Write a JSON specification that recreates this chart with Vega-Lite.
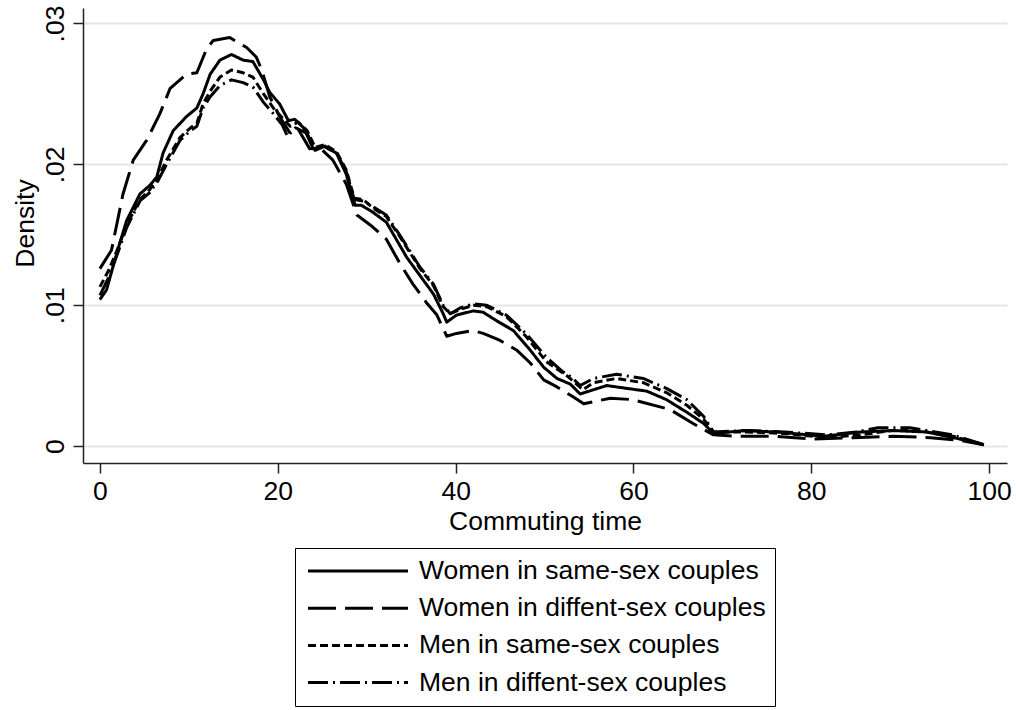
{
  "$schema": "https://vega.github.io/schema/vega-lite/v6.json",
  "autosize": {"type": "none"},
  "width": 924,
  "height": 455,
  "padding": {"left": 83, "top": 8, "right": 9, "bottom": 247},
  "background": "white",
  "config": {
    "view": {"stroke": null},
    "font": "Liberation Sans"
  },
  "datasets": {
    "curves": [
      {"group": "Women in same-sex couples", "time": 0, "density": 0.0104},
      {"group": "Women in same-sex couples", "time": 0.75, "density": 0.0111},
      {"group": "Women in same-sex couples", "time": 1.9, "density": 0.0137},
      {"group": "Women in same-sex couples", "time": 3.0, "density": 0.0160},
      {"group": "Women in same-sex couples", "time": 4.5, "density": 0.0179},
      {"group": "Women in same-sex couples", "time": 5.6, "density": 0.0185},
      {"group": "Women in same-sex couples", "time": 6.4, "density": 0.0191},
      {"group": "Women in same-sex couples", "time": 7.1, "density": 0.0208},
      {"group": "Women in same-sex couples", "time": 8.25, "density": 0.0224},
      {"group": "Women in same-sex couples", "time": 9.75, "density": 0.0234},
      {"group": "Women in same-sex couples", "time": 10.9, "density": 0.0240},
      {"group": "Women in same-sex couples", "time": 11.6, "density": 0.0250},
      {"group": "Women in same-sex couples", "time": 12.4, "density": 0.0264},
      {"group": "Women in same-sex couples", "time": 13.5, "density": 0.0274},
      {"group": "Women in same-sex couples", "time": 14.8, "density": 0.0278},
      {"group": "Women in same-sex couples", "time": 16.1, "density": 0.0274},
      {"group": "Women in same-sex couples", "time": 17.2, "density": 0.0273},
      {"group": "Women in same-sex couples", "time": 18.4, "density": 0.0260},
      {"group": "Women in same-sex couples", "time": 19.1, "density": 0.0251},
      {"group": "Women in same-sex couples", "time": 20.2, "density": 0.0243},
      {"group": "Women in same-sex couples", "time": 21.2, "density": 0.0231},
      {"group": "Women in same-sex couples", "time": 21.9, "density": 0.0232},
      {"group": "Women in same-sex couples", "time": 22.9, "density": 0.0226},
      {"group": "Women in same-sex couples", "time": 24.0, "density": 0.0211},
      {"group": "Women in same-sex couples", "time": 25.1, "density": 0.0213},
      {"group": "Women in same-sex couples", "time": 26.6, "density": 0.0208},
      {"group": "Women in same-sex couples", "time": 27.7, "density": 0.0193},
      {"group": "Women in same-sex couples", "time": 28.7, "density": 0.0171},
      {"group": "Women in same-sex couples", "time": 29.4, "density": 0.0171},
      {"group": "Women in same-sex couples", "time": 30.7, "density": 0.0166},
      {"group": "Women in same-sex couples", "time": 32.2, "density": 0.0159},
      {"group": "Women in same-sex couples", "time": 33.4, "density": 0.0146},
      {"group": "Women in same-sex couples", "time": 34.5, "density": 0.0134},
      {"group": "Women in same-sex couples", "time": 36.0, "density": 0.0121},
      {"group": "Women in same-sex couples", "time": 37.5, "density": 0.0108},
      {"group": "Women in same-sex couples", "time": 38.6, "density": 0.0094},
      {"group": "Women in same-sex couples", "time": 39.0, "density": 0.0088},
      {"group": "Women in same-sex couples", "time": 40.1, "density": 0.0093},
      {"group": "Women in same-sex couples", "time": 42.0, "density": 0.0096},
      {"group": "Women in same-sex couples", "time": 43.1, "density": 0.0095},
      {"group": "Women in same-sex couples", "time": 44.6, "density": 0.0089},
      {"group": "Women in same-sex couples", "time": 46.5, "density": 0.0082},
      {"group": "Women in same-sex couples", "time": 48.4, "density": 0.0068},
      {"group": "Women in same-sex couples", "time": 49.9, "density": 0.0056},
      {"group": "Women in same-sex couples", "time": 51.4, "density": 0.0048},
      {"group": "Women in same-sex couples", "time": 52.9, "density": 0.0044},
      {"group": "Women in same-sex couples", "time": 54.0, "density": 0.0037},
      {"group": "Women in same-sex couples", "time": 57.0, "density": 0.0043},
      {"group": "Women in same-sex couples", "time": 59.2, "density": 0.0041},
      {"group": "Women in same-sex couples", "time": 61.5, "density": 0.0039},
      {"group": "Women in same-sex couples", "time": 63.7, "density": 0.0033},
      {"group": "Women in same-sex couples", "time": 66.0, "density": 0.0024},
      {"group": "Women in same-sex couples", "time": 67.9, "density": 0.0016},
      {"group": "Women in same-sex couples", "time": 69.0, "density": 0.0009},
      {"group": "Women in same-sex couples", "time": 72.4, "density": 0.0011},
      {"group": "Women in same-sex couples", "time": 76.1, "density": 0.0010},
      {"group": "Women in same-sex couples", "time": 81.4, "density": 0.0007},
      {"group": "Women in same-sex couples", "time": 85.5, "density": 0.0010},
      {"group": "Women in same-sex couples", "time": 89.2, "density": 0.0011},
      {"group": "Women in same-sex couples", "time": 93.0, "density": 0.0010},
      {"group": "Women in same-sex couples", "time": 96.7, "density": 0.0005},
      {"group": "Women in same-sex couples", "time": 99.4, "density": 0.0001},

      {"group": "Women in diffent-sex couples", "time": 0, "density": 0.0126},
      {"group": "Women in diffent-sex couples", "time": 1.3, "density": 0.0139},
      {"group": "Women in diffent-sex couples", "time": 2.6, "density": 0.0179},
      {"group": "Women in diffent-sex couples", "time": 3.75, "density": 0.0203},
      {"group": "Women in diffent-sex couples", "time": 5.25, "density": 0.0217},
      {"group": "Women in diffent-sex couples", "time": 6.75, "density": 0.0236},
      {"group": "Women in diffent-sex couples", "time": 7.9, "density": 0.0254},
      {"group": "Women in diffent-sex couples", "time": 9.0, "density": 0.0260},
      {"group": "Women in diffent-sex couples", "time": 9.75, "density": 0.0264},
      {"group": "Women in diffent-sex couples", "time": 10.9, "density": 0.0265},
      {"group": "Women in diffent-sex couples", "time": 12.0, "density": 0.0282},
      {"group": "Women in diffent-sex couples", "time": 12.75, "density": 0.0288},
      {"group": "Women in diffent-sex couples", "time": 14.6, "density": 0.0290},
      {"group": "Women in diffent-sex couples", "time": 15.4, "density": 0.0287},
      {"group": "Women in diffent-sex couples", "time": 16.5, "density": 0.0283},
      {"group": "Women in diffent-sex couples", "time": 17.6, "density": 0.0276},
      {"group": "Women in diffent-sex couples", "time": 18.2, "density": 0.0267},
      {"group": "Women in diffent-sex couples", "time": 19.1, "density": 0.0248},
      {"group": "Women in diffent-sex couples", "time": 20.2, "density": 0.0234},
      {"group": "Women in diffent-sex couples", "time": 21.4, "density": 0.0222},
      {"group": "Women in diffent-sex couples", "time": 22.3, "density": 0.0225},
      {"group": "Women in diffent-sex couples", "time": 23.6, "density": 0.0211},
      {"group": "Women in diffent-sex couples", "time": 24.7, "density": 0.0212},
      {"group": "Women in diffent-sex couples", "time": 26.2, "density": 0.0203},
      {"group": "Women in diffent-sex couples", "time": 27.7, "density": 0.0186},
      {"group": "Women in diffent-sex couples", "time": 28.9, "density": 0.0164},
      {"group": "Women in diffent-sex couples", "time": 30.4, "density": 0.0157},
      {"group": "Women in diffent-sex couples", "time": 32.2, "density": 0.0147},
      {"group": "Women in diffent-sex couples", "time": 33.7, "density": 0.0130},
      {"group": "Women in diffent-sex couples", "time": 35.2, "density": 0.0115},
      {"group": "Women in diffent-sex couples", "time": 36.7, "density": 0.0102},
      {"group": "Women in diffent-sex couples", "time": 37.9, "density": 0.0093},
      {"group": "Women in diffent-sex couples", "time": 39.0, "density": 0.0078},
      {"group": "Women in diffent-sex couples", "time": 40.1, "density": 0.0080},
      {"group": "Women in diffent-sex couples", "time": 42.0, "density": 0.0082},
      {"group": "Women in diffent-sex couples", "time": 43.1, "density": 0.0080},
      {"group": "Women in diffent-sex couples", "time": 45.0, "density": 0.0075},
      {"group": "Women in diffent-sex couples", "time": 46.9, "density": 0.0068},
      {"group": "Women in diffent-sex couples", "time": 48.4, "density": 0.0059},
      {"group": "Women in diffent-sex couples", "time": 49.9, "density": 0.0047},
      {"group": "Women in diffent-sex couples", "time": 51.4, "density": 0.0042},
      {"group": "Women in diffent-sex couples", "time": 53.2, "density": 0.0035},
      {"group": "Women in diffent-sex couples", "time": 54.4, "density": 0.0030},
      {"group": "Women in diffent-sex couples", "time": 57.4, "density": 0.0034},
      {"group": "Women in diffent-sex couples", "time": 59.9, "density": 0.0033},
      {"group": "Women in diffent-sex couples", "time": 64.1, "density": 0.0026},
      {"group": "Women in diffent-sex couples", "time": 66.7, "density": 0.0016},
      {"group": "Women in diffent-sex couples", "time": 69.0, "density": 0.0008},
      {"group": "Women in diffent-sex couples", "time": 71.6, "density": 0.0007},
      {"group": "Women in diffent-sex couples", "time": 75.7, "density": 0.0007},
      {"group": "Women in diffent-sex couples", "time": 80.2, "density": 0.0005},
      {"group": "Women in diffent-sex couples", "time": 84.7, "density": 0.0006},
      {"group": "Women in diffent-sex couples", "time": 89.2, "density": 0.0007},
      {"group": "Women in diffent-sex couples", "time": 93.4, "density": 0.0006},
      {"group": "Women in diffent-sex couples", "time": 96.7, "density": 0.0004},
      {"group": "Women in diffent-sex couples", "time": 99.4, "density": 0.0001},

      {"group": "Men in same-sex couples", "time": 0, "density": 0.0113},
      {"group": "Men in same-sex couples", "time": 1.0, "density": 0.0125},
      {"group": "Men in same-sex couples", "time": 2.0, "density": 0.0140},
      {"group": "Men in same-sex couples", "time": 3.0, "density": 0.0157},
      {"group": "Men in same-sex couples", "time": 4.5, "density": 0.0175},
      {"group": "Men in same-sex couples", "time": 5.6, "density": 0.0182},
      {"group": "Men in same-sex couples", "time": 6.5, "density": 0.0190},
      {"group": "Men in same-sex couples", "time": 7.5, "density": 0.0203},
      {"group": "Men in same-sex couples", "time": 9.0, "density": 0.0219},
      {"group": "Men in same-sex couples", "time": 10.2, "density": 0.0226},
      {"group": "Men in same-sex couples", "time": 10.9, "density": 0.0229},
      {"group": "Men in same-sex couples", "time": 11.6, "density": 0.0243},
      {"group": "Men in same-sex couples", "time": 12.4, "density": 0.0252},
      {"group": "Men in same-sex couples", "time": 13.5, "density": 0.0262},
      {"group": "Men in same-sex couples", "time": 14.8, "density": 0.0267},
      {"group": "Men in same-sex couples", "time": 16.1, "density": 0.0265},
      {"group": "Men in same-sex couples", "time": 17.2, "density": 0.0262},
      {"group": "Men in same-sex couples", "time": 18.4, "density": 0.0250},
      {"group": "Men in same-sex couples", "time": 19.5, "density": 0.0240},
      {"group": "Men in same-sex couples", "time": 20.5, "density": 0.0233},
      {"group": "Men in same-sex couples", "time": 21.4, "density": 0.0227},
      {"group": "Men in same-sex couples", "time": 22.3, "density": 0.0230},
      {"group": "Men in same-sex couples", "time": 23.3, "density": 0.0224},
      {"group": "Men in same-sex couples", "time": 24.2, "density": 0.0212},
      {"group": "Men in same-sex couples", "time": 25.3, "density": 0.0214},
      {"group": "Men in same-sex couples", "time": 26.6, "density": 0.0209},
      {"group": "Men in same-sex couples", "time": 27.7, "density": 0.0196},
      {"group": "Men in same-sex couples", "time": 28.6, "density": 0.0176},
      {"group": "Men in same-sex couples", "time": 29.6, "density": 0.0175},
      {"group": "Men in same-sex couples", "time": 30.7, "density": 0.0169},
      {"group": "Men in same-sex couples", "time": 32.2, "density": 0.0163},
      {"group": "Men in same-sex couples", "time": 33.7, "density": 0.0149},
      {"group": "Men in same-sex couples", "time": 36.0, "density": 0.0126},
      {"group": "Men in same-sex couples", "time": 37.5, "density": 0.0114},
      {"group": "Men in same-sex couples", "time": 38.6, "density": 0.0099},
      {"group": "Men in same-sex couples", "time": 39.4, "density": 0.0094},
      {"group": "Men in same-sex couples", "time": 40.5, "density": 0.0097},
      {"group": "Men in same-sex couples", "time": 42.0, "density": 0.0100},
      {"group": "Men in same-sex couples", "time": 43.5, "density": 0.0099},
      {"group": "Men in same-sex couples", "time": 45.7, "density": 0.0092},
      {"group": "Men in same-sex couples", "time": 47.9, "density": 0.0078},
      {"group": "Men in same-sex couples", "time": 50.2, "density": 0.0060},
      {"group": "Men in same-sex couples", "time": 52.5, "density": 0.0050},
      {"group": "Men in same-sex couples", "time": 53.6, "density": 0.0044},
      {"group": "Men in same-sex couples", "time": 54.3, "density": 0.0040},
      {"group": "Men in same-sex couples", "time": 55.5, "density": 0.0045},
      {"group": "Men in same-sex couples", "time": 58.1, "density": 0.0048},
      {"group": "Men in same-sex couples", "time": 61.1, "density": 0.0045},
      {"group": "Men in same-sex couples", "time": 63.7, "density": 0.0038},
      {"group": "Men in same-sex couples", "time": 66.0, "density": 0.0029},
      {"group": "Men in same-sex couples", "time": 67.9, "density": 0.0019},
      {"group": "Men in same-sex couples", "time": 69.0, "density": 0.0010},
      {"group": "Men in same-sex couples", "time": 72.8, "density": 0.0010},
      {"group": "Men in same-sex couples", "time": 77.0, "density": 0.0009},
      {"group": "Men in same-sex couples", "time": 81.8, "density": 0.0006},
      {"group": "Men in same-sex couples", "time": 85.5, "density": 0.0008},
      {"group": "Men in same-sex couples", "time": 89.0, "density": 0.0011},
      {"group": "Men in same-sex couples", "time": 92.0, "density": 0.0011},
      {"group": "Men in same-sex couples", "time": 95.9, "density": 0.0007},
      {"group": "Men in same-sex couples", "time": 99.4, "density": 0.0001},

      {"group": "Men in diffent-sex couples", "time": 0, "density": 0.0107},
      {"group": "Men in diffent-sex couples", "time": 1.0, "density": 0.0120},
      {"group": "Men in diffent-sex couples", "time": 2.0, "density": 0.0137},
      {"group": "Men in diffent-sex couples", "time": 3.0, "density": 0.0155},
      {"group": "Men in diffent-sex couples", "time": 4.5, "density": 0.0174},
      {"group": "Men in diffent-sex couples", "time": 5.6, "density": 0.0180},
      {"group": "Men in diffent-sex couples", "time": 6.5, "density": 0.0188},
      {"group": "Men in diffent-sex couples", "time": 7.5, "density": 0.0200},
      {"group": "Men in diffent-sex couples", "time": 9.0, "density": 0.0217},
      {"group": "Men in diffent-sex couples", "time": 10.2, "density": 0.0224},
      {"group": "Men in diffent-sex couples", "time": 10.9, "density": 0.0227},
      {"group": "Men in diffent-sex couples", "time": 11.6, "density": 0.0240},
      {"group": "Men in diffent-sex couples", "time": 12.4, "density": 0.0248},
      {"group": "Men in diffent-sex couples", "time": 13.5, "density": 0.0256},
      {"group": "Men in diffent-sex couples", "time": 14.8, "density": 0.0260},
      {"group": "Men in diffent-sex couples", "time": 16.1, "density": 0.0258},
      {"group": "Men in diffent-sex couples", "time": 17.2, "density": 0.0255},
      {"group": "Men in diffent-sex couples", "time": 18.4, "density": 0.0244},
      {"group": "Men in diffent-sex couples", "time": 19.5, "density": 0.0236},
      {"group": "Men in diffent-sex couples", "time": 20.5, "density": 0.0228},
      {"group": "Men in diffent-sex couples", "time": 21.1, "density": 0.0220},
      {"group": "Men in diffent-sex couples", "time": 22.0, "density": 0.0226},
      {"group": "Men in diffent-sex couples", "time": 23.3, "density": 0.0222},
      {"group": "Men in diffent-sex couples", "time": 24.2, "density": 0.0210},
      {"group": "Men in diffent-sex couples", "time": 25.3, "density": 0.0213},
      {"group": "Men in diffent-sex couples", "time": 26.6, "density": 0.0208},
      {"group": "Men in diffent-sex couples", "time": 27.7, "density": 0.0195},
      {"group": "Men in diffent-sex couples", "time": 28.6, "density": 0.0175},
      {"group": "Men in diffent-sex couples", "time": 29.6, "density": 0.0174},
      {"group": "Men in diffent-sex couples", "time": 30.7, "density": 0.0170},
      {"group": "Men in diffent-sex couples", "time": 32.2, "density": 0.0164},
      {"group": "Men in diffent-sex couples", "time": 33.7, "density": 0.0150},
      {"group": "Men in diffent-sex couples", "time": 36.0, "density": 0.0127},
      {"group": "Men in diffent-sex couples", "time": 37.5, "density": 0.0115},
      {"group": "Men in diffent-sex couples", "time": 38.6, "density": 0.0100},
      {"group": "Men in diffent-sex couples", "time": 39.4, "density": 0.0094},
      {"group": "Men in diffent-sex couples", "time": 40.5, "density": 0.0098},
      {"group": "Men in diffent-sex couples", "time": 42.0, "density": 0.0101},
      {"group": "Men in diffent-sex couples", "time": 43.5, "density": 0.0100},
      {"group": "Men in diffent-sex couples", "time": 45.7, "density": 0.0093},
      {"group": "Men in diffent-sex couples", "time": 47.9, "density": 0.0080},
      {"group": "Men in diffent-sex couples", "time": 50.2, "density": 0.0063},
      {"group": "Men in diffent-sex couples", "time": 52.0, "density": 0.0053},
      {"group": "Men in diffent-sex couples", "time": 53.0, "density": 0.0049},
      {"group": "Men in diffent-sex couples", "time": 54.0, "density": 0.0043},
      {"group": "Men in diffent-sex couples", "time": 55.5, "density": 0.0048},
      {"group": "Men in diffent-sex couples", "time": 58.1, "density": 0.0051},
      {"group": "Men in diffent-sex couples", "time": 61.1, "density": 0.0048},
      {"group": "Men in diffent-sex couples", "time": 63.7, "density": 0.0041},
      {"group": "Men in diffent-sex couples", "time": 66.0, "density": 0.0033},
      {"group": "Men in diffent-sex couples", "time": 67.9, "density": 0.0021},
      {"group": "Men in diffent-sex couples", "time": 69.0, "density": 0.0010},
      {"group": "Men in diffent-sex couples", "time": 72.8, "density": 0.0011},
      {"group": "Men in diffent-sex couples", "time": 77.0, "density": 0.0010},
      {"group": "Men in diffent-sex couples", "time": 81.8, "density": 0.0008},
      {"group": "Men in diffent-sex couples", "time": 85.0, "density": 0.0010},
      {"group": "Men in diffent-sex couples", "time": 87.5, "density": 0.0013},
      {"group": "Men in diffent-sex couples", "time": 91.1, "density": 0.0013},
      {"group": "Men in diffent-sex couples", "time": 95.9, "density": 0.0008},
      {"group": "Men in diffent-sex couples", "time": 99.4, "density": 0.0001}
    ]
  },
  "data": {"name": "curves"},
  "mark": {"type": "line", "strokeWidth": 3, "color": "black", "strokeCap": "butt", "strokeJoin": "round"},
  "encoding": {
    "x": {
      "field": "time",
      "type": "quantitative",
      "scale": {"domain": [-1.9, 102], "nice": false, "zero": false},
      "axis": {
        "title": "Commuting time",
        "values": [0, 20, 40, 60, 80, 100],
        "grid": false,
        "domainColor": "#222",
        "domainWidth": 1.5,
        "tickColor": "#222",
        "tickWidth": 1.5,
        "tickSize": 10,
        "labelFontSize": 26.5,
        "labelColor": "black",
        "labelPadding": 5,
        "titleFontSize": 26.5,
        "titleFontWeight": "normal",
        "titleColor": "black",
        "titleBaseline": "alphabetic",
        "titleY": 66
      }
    },
    "y": {
      "field": "density",
      "type": "quantitative",
      "scale": {"domain": [-0.0012, 0.0311], "nice": false, "zero": false},
      "axis": {
        "title": "Density",
        "values": [0, 0.01, 0.02, 0.03],
        "labelExpr": "datum.value == 0 ? '0' : replace(format(datum.value, '.2f'), '0.', '.')",
        "grid": true,
        "gridColor": "#e6e6e6",
        "gridWidth": 2,
        "domainColor": "#222",
        "domainWidth": 1.5,
        "tickColor": "#222",
        "tickWidth": 1.5,
        "tickSize": 10,
        "labelFontSize": 26.5,
        "labelColor": "black",
        "labelAngle": -90,
        "labelAlign": "center",
        "labelBaseline": "alphabetic",
        "labelPadding": 10,
        "titleFontSize": 26.5,
        "titleFontWeight": "normal",
        "titleColor": "black",
        "titleAngle": -90,
        "titleAlign": "center",
        "titleBaseline": "alphabetic",
        "titleX": -50,
        "titleY": 215
      }
    },
    "strokeDash": {
      "field": "group",
      "type": "nominal",
      "scale": {
        "domain": ["Women in same-sex couples", "Women in diffent-sex couples", "Men in same-sex couples", "Men in diffent-sex couples"],
        "range": [[1, 0], [28, 9], [8, 4], [20, 5, 2, 5]]
      },
      "legend": {
        "title": null,
        "orient": "none",
        "legendX": 212,
        "legendY": 540,
        "direction": "vertical",
        "strokeColor": "black",
        "padding": 9,
        "rowPadding": 9.2,
        "symbolType": "M-0.8,0H7.2",
        "symbolSize": 625,
        "symbolStrokeWidth": 3,
        "symbolStrokeColor": "black",
        "labelFontSize": 26.5,
        "labelColor": "black",
        "labelOffset": 87,
        "labelLimit": 600
      }
    }
  }
}
